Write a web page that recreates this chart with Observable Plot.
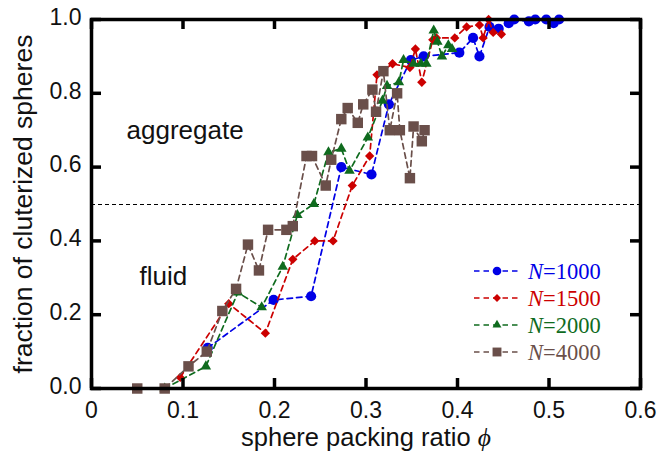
<!DOCTYPE html>
<html><head><meta charset="utf-8">
<script src="https://cdn.jsdelivr.net/npm/d3@7"></script>
<script src="https://cdn.jsdelivr.net/npm/@observablehq/plot@0.6"></script>
<style>
body{margin:0;background:#fff;}
#wrap{position:relative;width:657px;height:455px;}
#legend{position:absolute;left:460px;top:255px;}
</style></head>
<body><div id="wrap"></div>
<script>
// ---- data ----
const seriesNames = ["1000","1500","2000","4000"];
const seriesColors = ["#0000e6","#cc0000","#0f6b1e","#6a4f4a"];
const seriesSymbols = ["circle","diamond2","triangle","square"];
const seriesR = [5.1,4.2,3.9,5.9];

const phi1000 = [0.127,0.199,0.240,0.273,0.306,0.325,0.349,0.363,0.402,0.417,0.424,0.435,0.445,0.456,0.462,0.478,0.485,0.497,0.505,0.511];
const frac1000 = [0.11,0.24,0.25,0.60,0.58,0.77,0.89,0.90,0.91,0.95,0.90,0.98,0.975,0.99,1.0,0.995,1.0,1.0,0.99,1.0];

const phi1500 = [0.097,0.150,0.190,0.220,0.244,0.264,0.285,0.304,0.312,0.329,0.348,0.354,0.361,0.373,0.377,0.397,0.410,0.424,0.428,0.434,0.439,0.448];
const frac1500 = [0.03,0.23,0.15,0.35,0.40,0.40,0.55,0.63,0.85,0.88,0.87,0.92,0.83,0.945,0.95,0.95,0.98,0.985,0.95,1.0,0.965,0.96];

const phi2000 = [0.08,0.125,0.160,0.186,0.209,0.225,0.243,0.259,0.273,0.282,0.302,0.318,0.323,0.336,0.341,0.352,0.360,0.366,0.374,0.378,0.383,0.390,0.394];
const frac2000 = [0.00,0.06,0.26,0.22,0.33,0.47,0.50,0.64,0.65,0.59,0.68,0.78,0.82,0.83,0.89,0.88,0.88,0.88,0.97,0.94,0.90,0.93,0.92];

const phi4000 = [0.05,0.08,0.106,0.126,0.143,0.158,0.171,0.183,0.193,0.213,0.220,0.235,0.241,0.256,0.262,0.273,0.280,0.291,0.297,0.307,0.311,0.319,0.326,0.334,0.337,0.348,0.352,0.361,0.364];
const frac4000 = [0,0,0.06,0.10,0.21,0.27,0.39,0.32,0.43,0.43,0.44,0.63,0.63,0.55,0.62,0.73,0.76,0.72,0.77,0.81,0.75,0.86,0.70,0.80,0.70,0.57,0.71,0.67,0.70];

const xTicks = [0,0.1,0.2,0.3,0.4,0.5,0.6];
const xTickLabels = ["0","0.1","0.2","0.3","0.4","0.5","0.6"];
const yTicks = [0,0.2,0.4,0.6,0.8,1.0];
const yTickLabels = ["0.0","0.2","0.4","0.6","0.8","1.0"];
const threshold = [0.5];
const xLabel = "sphere packing ratio ";
const yLabel = "fraction of cluterized spheres";
const regionLabels = ["aggregate","fluid"];

// ---- build ----
const allPhi = [phi1000,phi1500,phi2000,phi4000];
const allFrac = [frac1000,frac1500,frac2000,frac4000];
const series = seriesNames.map((n,k)=>allPhi[k].map((p,i)=>({phi:p, frac:allFrac[k][i], N:n})));

const W=657,H=455,mL=91,mR=17,mT=19,mB=67;
const pw=W-mL-mR, ph=H-mT-mB, tl=10;
const sans='"Liberation Sans",Arial,Helvetica,sans-serif';

const marks = [
  Plot.ruleY(threshold,{stroke:"black",strokeWidth:1,strokeDasharray:"4,3",dy:0.5})
];
series.forEach((d,k)=>{
  marks.push(Plot.line(d,{x:"phi",y:"frac",stroke:seriesColors[k],strokeWidth:1.7,strokeDasharray:"5.5,4"}));
  marks.push(Plot.dot(d,{x:"phi",y:"frac",fill:seriesColors[k],stroke:"none",symbol:seriesSymbols[k],r:seriesR[k]}));
});
marks.push(
  Plot.frame({stroke:"black",strokeWidth:3.5}),
  Plot.tickX(xTicks,{x:d=>d,insetTop:ph-tl,stroke:"black",strokeWidth:3.5}),
  Plot.tickX(xTicks,{x:d=>d,insetBottom:ph-tl,stroke:"black",strokeWidth:3.5}),
  Plot.tickY(yTicks,{y:d=>d,insetRight:pw-tl,stroke:"black",strokeWidth:3.5}),
  Plot.tickY(yTicks,{y:d=>d,insetLeft:pw-tl,stroke:"black",strokeWidth:3.5}),
  Plot.axisX(xTicks,{tickSize:0,tickPadding:13,fontSize:23,tickFormat:d=>xTickLabels[xTicks.indexOf(d)],label:null}),
  Plot.axisY(yTicks,{tickSize:0,tickPadding:10,fontSize:23,dy:-2,tickFormat:d=>yTickLabels[yTicks.indexOf(d)],label:null}),
  Plot.text([xLabel],{frameAnchor:"bottom",lineAnchor:"middle",dy:49,fontSize:25.5,text:d=>d,className:"xlab"}),
  Plot.text([yLabel],{frameAnchor:"left",textAnchor:"middle",lineAnchor:"middle",dx:-68,rotate:-90,fontSize:26.5,text:d=>d}),
  Plot.text([regionLabels[0]],{frameAnchor:"top-left",lineAnchor:"middle",dx:35,dy:111,textAnchor:"start",fontSize:26,text:d=>d}),
  Plot.text([regionLabels[1]],{frameAnchor:"top-left",lineAnchor:"middle",dx:48,dy:257,textAnchor:"start",fontSize:26,text:d=>d})
);

const chart = Plot.plot({
  width:W,height:H,marginLeft:mL,marginRight:mR,marginTop:mT,marginBottom:mB,
  style:{fontFamily:sans,color:"#111",background:"white",overflow:"visible"},
  x:{domain:[0,0.6]}, y:{domain:[0,1]},
  marks
});
document.getElementById("wrap").appendChild(chart);

// x label: add italic serif phi
const xl = chart.querySelector(".xlab text");
if (xl) {
  const t = d3.select(xl);
  const txt = t.text();
  t.text(null);
  t.append("tspan").text(txt);
  t.append("tspan").attr("font-family",'"Liberation Serif","Times New Roman",serif').attr("font-style","italic").text("\u03D5");
}

// legend
const lg = d3.select("#wrap").append("svg").attr("id","legend").attr("width",190).attr("height",115);
seriesNames.forEach((n,k)=>{
  const cy = 16 + 27*k;
  lg.append("line").attr("x1",14).attr("x2",60).attr("y1",cy).attr("y2",cy)
    .attr("stroke",seriesColors[k]).attr("stroke-width",1.7).attr("stroke-dasharray","5.5,4");
  const sym = {circle:d3.symbolCircle,diamond2:d3.symbolDiamond2,triangle:d3.symbolTriangle,square:d3.symbolSquare}[seriesSymbols[k]];
  const rr = seriesR[k]*0.85;
  lg.append("path").attr("transform",`translate(37,${cy})`).attr("d",d3.symbol(sym, rr*rr*Math.PI)()).attr("fill",seriesColors[k]);
  const tx = lg.append("text").attr("x",68).attr("y",cy).attr("dy","0.35em")
    .attr("font-family",'"Liberation Serif","Times New Roman",serif').attr("font-size",22.5).attr("fill",seriesColors[k]);
  tx.append("tspan").attr("font-style","italic").text("N");
  tx.append("tspan").text("=" + n);
});
</script>
</body></html>
